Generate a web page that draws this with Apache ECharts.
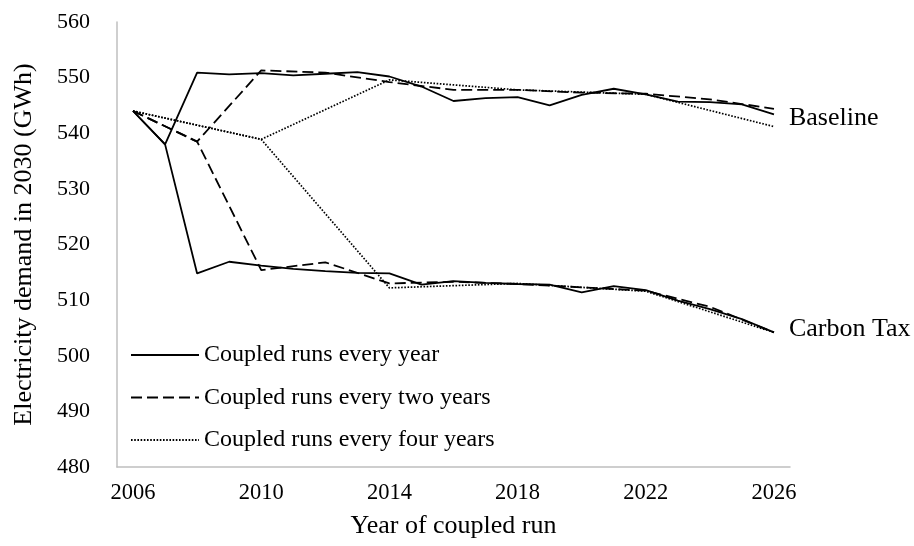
<!DOCTYPE html>
<html>
<head>
<meta charset="utf-8">
<script src="https://cdn.jsdelivr.net/npm/echarts@6/dist/echarts.min.js"></script>
<style>
html,body{margin:0;padding:0;background:#fff;}
#chart{width:914px;height:546px;}
</style>
</head>
<body>
<div id="chart"></div>
<script>
const years = ['2006','2007','2008','2009','2010','2011','2012','2013','2014','2015','2016','2017','2018','2019','2020','2021','2022','2023','2024','2025','2026'];

const seriesNames = ['Coupled runs every year', 'Coupled runs every two years', 'Coupled runs every four years'];
const scenarioLabels = ['Baseline', 'Carbon Tax'];

const everyYearBaseline = [544.0, 538.0, 550.9, 550.6, 550.8, 550.4, 550.7, 551.0, 550.2, 548.4, 545.8, 546.3, 546.5, 545.0, 546.9, 548.0, 547.0, 545.7, 545.6, 545.2, 543.4];
const everyYearCarbon   = [544.0, 538.0, 514.8, 516.9, 516.2, 515.6, 515.2, 514.9, 514.8, 512.8, 513.4, 513.1, 512.9, 512.8, 511.4, 512.5, 511.8, 509.9, 508.4, 506.6, 504.2];

const everyTwoBaseline = [544.0, null, 538.5, null, 551.3, null, 550.9, null, 549.2, null, 547.8, null, 547.8, null, 547.3, null, 547.1, null, 546.1, null, 544.4];
const everyTwoCarbon   = [544.0, null, 538.5, null, 515.4, null, 516.8, null, 513.0, null, 513.3, null, 512.9, null, 512.3, null, 511.7, null, 508.8, null, 504.2];

const everyFourBaseline = [544.0, null, null, null, 538.9, null, null, null, 549.6, null, null, null, 547.8, null, null, null, 547.0, null, null, null, 541.2];
const everyFourCarbon   = [544.0, null, null, null, 538.9, null, null, null, 512.2, null, null, null, 513.0, null, null, null, 511.6, null, null, null, 504.2];

const yTicks = {min: 480, max: 560, interval: 10};

const FONT = '"Liberation Serif", "Times New Roman", serif';
const styles = [
  {type: 'solid', width: 1.8},
  {type: [11, 5], width: 1.8},
  {type: [1.6, 1.6], width: 1.7}
];

function mk(name, data, styleIdx, endText, dy) {
  const s = {
    name: name,
    type: 'line',
    data: data,
    symbol: 'none',
    connectNulls: true,
    lineStyle: Object.assign({color: '#000'}, styles[styleIdx]),
    itemStyle: {color: '#000'},
    z: 3 - styleIdx
  };
  if (endText) {
    s.endLabel = {
      show: true,
      formatter: endText,
      color: '#000',
      fontFamily: FONT,
      fontSize: 26,
      distance: 15,
      offset: [0, dy]
    };
  }
  return s;
}

const chart = echarts.init(document.getElementById('chart'), null, {renderer: 'canvas'});
chart.setOption({
  animation: false,
  backgroundColor: '#fff',
  grid: {left: 117, right: 124, top: 22, bottom: 79, containLabel: false},
  legend: {
    orient: 'vertical',
    left: 125,
    top: 338,
    itemWidth: 68,
    itemHeight: 14,
    itemGap: 18.5,
    data: seriesNames,
    itemStyle: {opacity: 0},
    textStyle: {color: '#000', fontFamily: FONT, fontSize: 24},
    selectedMode: false
  },
  xAxis: {
    type: 'category',
    data: years,
    boundaryGap: true,
    axisLine: {lineStyle: {color: '#BFBFBF', width: 1.5}},
    axisTick: {show: false},
    axisLabel: {interval: 3, color: '#000', fontFamily: FONT, fontSize: 22.5, margin: 15},
    name: 'Year of coupled run',
    nameLocation: 'middle',
    nameGap: 46,
    nameTextStyle: {color: '#000', fontFamily: FONT, fontSize: 26}
  },
  yAxis: {
    type: 'value',
    min: yTicks.min,
    max: yTicks.max,
    interval: yTicks.interval,
    axisLine: {show: true, lineStyle: {color: '#BFBFBF', width: 1.5}},
    axisTick: {show: false},
    splitLine: {show: false},
    axisLabel: {color: '#000', fontFamily: FONT, fontSize: 22, margin: 27},
    name: 'Electricity demand in 2030 (GWh)',
    nameLocation: 'middle',
    nameGap: 80,
    nameTextStyle: {color: '#000', fontFamily: FONT, fontSize: 26}
  },
  series: [
    mk(seriesNames[0], everyYearBaseline, 0, scenarioLabels[0], 4),
    mk(seriesNames[0], everyYearCarbon, 0, scenarioLabels[1], -3),
    mk(seriesNames[1], everyTwoBaseline, 1),
    mk(seriesNames[1], everyTwoCarbon, 1),
    mk(seriesNames[2], everyFourBaseline, 2),
    mk(seriesNames[2], everyFourCarbon, 2)
  ]
});
</script>
</body>
</html>
